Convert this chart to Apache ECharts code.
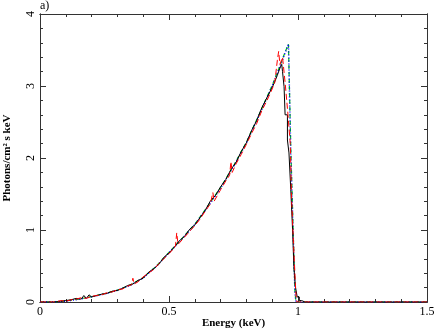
<!DOCTYPE html>
<html>
<head>
<meta charset="utf-8">
<script src="https://cdn.jsdelivr.net/npm/echarts@6/dist/echarts.min.js"></script>
<style>
  html, body { margin: 0; padding: 0; background: #fff; }
</style>
</head>
<body>
<div id="mains" style="width:435px;height:332px;"></div>
<script>
// black data set (keV, photons/cm2 s keV)
var blackE = [0, 0.06, 0.08, 0.10, 0.12, 0.14, 0.16, 0.17, 0.18, 0.19, 0.20, 0.22, 0.24, 0.26, 0.28, 0.30, 0.32, 0.34, 0.36, 0.38,
  0.40, 0.42, 0.44, 0.46, 0.48, 0.50, 0.52, 0.54, 0.56, 0.58, 0.60, 0.62, 0.64, 0.66, 0.68, 0.70, 0.72, 0.74,
  0.76, 0.78, 0.80, 0.82, 0.84, 0.86, 0.88, 0.90, 0.91, 0.92, 0.93, 0.937, 0.94, 0.946, 0.946, 0.95, 0.95, 0.959, 0.959,
  0.965, 0.965, 0.972, 0.972, 0.979, 0.979, 0.984, 0.984, 0.99, 0.99, 0.997, 0.997, 1.005, 1.005, 1.014, 1.014, 1.027, 1.5];
var blackY = [0, 0.00, 0.01, 0.02, 0.03, 0.05, 0.04, 0.09, 0.05, 0.10, 0.07, 0.09, 0.11, 0.12, 0.15, 0.16, 0.19, 0.23, 0.25, 0.30,
  0.33, 0.41, 0.46, 0.52, 0.62, 0.68, 0.76, 0.85, 0.91, 1.01, 1.07, 1.17, 1.27, 1.40, 1.48, 1.60, 1.70, 1.84,
  1.94, 2.09, 2.21, 2.38, 2.52, 2.70, 2.84, 2.98, 3.06, 3.15, 3.25, 3.30, 3.20, 3.20, 2.99, 2.99, 2.60, 2.60, 2.25,
  2.25, 2.07, 2.07, 1.56, 1.56, 1.00, 1.00, 0.49, 0.49, 0.21, 0.21, 0.07, 0.07, 0.02, 0.02, 0.00, 0.00, 0];

// red data set
var redE = [0, 0.06, 0.08, 0.10, 0.12, 0.14, 0.16, 0.18, 0.20, 0.22, 0.24, 0.26, 0.28, 0.30, 0.32, 0.34, 0.355, 0.36, 0.365,
  0.38, 0.40, 0.42, 0.44, 0.46, 0.48, 0.50, 0.52, 0.525, 0.53, 0.535, 0.54, 0.56, 0.58, 0.60, 0.62, 0.64, 0.66, 0.665, 0.67, 0.675,
  0.70, 0.72, 0.735, 0.74, 0.745, 0.76, 0.78, 0.80, 0.82, 0.84, 0.86, 0.88, 0.90, 0.91, 0.92, 0.925, 0.93, 0.94, 0.95,
  0.96, 0.97, 0.975, 0.982, 0.988, 0.992, 0.996, 1.5];
var redY = [0, 0.00, 0.02, 0.01, 0.03, 0.04, 0.06, 0.05, 0.08, 0.09, 0.10, 0.13, 0.14, 0.17, 0.18, 0.22, 0.24, 0.33, 0.25,
  0.28, 0.35, 0.40, 0.45, 0.53, 0.60, 0.67, 0.75, 0.78, 0.96, 0.80, 0.82, 0.90, 0.98, 1.06, 1.15, 1.26, 1.36, 1.38, 1.52, 1.40,
  1.56, 1.68, 1.76, 1.95, 1.80, 1.92, 2.05, 2.19, 2.34, 2.48, 2.66, 2.80, 2.96, 3.05, 3.36, 3.48, 3.30, 3.40, 3.05,
  2.65, 2.20, 1.46, 0.86, 0.40, 0.10, 0.00, 0];

// model curves
var modelE = [0, 0.05, 0.10, 0.15, 0.20, 0.25, 0.30, 0.35, 0.40, 0.45, 0.50, 0.55, 0.60, 0.65, 0.70, 0.75, 0.80,
  0.85, 0.90, 0.93, 0.95, 0.963, 0.972, 0.982, 0.988, 0.992, 1.5];
var greenY = [0, 0, 0.015, 0.04, 0.075, 0.115, 0.165, 0.235, 0.34, 0.495, 0.69, 0.88, 1.08, 1.33, 1.59, 1.89, 2.22,
  2.61, 3.01, 3.28, 3.47, 3.58, 2.15, 0.90, 0.16, 0, 0];
var blueY = [0, 0, 0.012, 0.038, 0.072, 0.112, 0.162, 0.232, 0.335, 0.49, 0.685, 0.875, 1.075, 1.32, 1.58, 1.88, 2.21,
  2.60, 3.00, 3.27, 3.46, 3.58, 2.07, 0.86, 0.14, 0, 0];

function pairs(xs, ys) {
  return xs.map(function (x, i) { return [x, ys[i]]; });
}

var font = "'Liberation Serif', 'DejaVu Serif', serif";
var frame = "#333";

// one axis of the box; major = long ticks + line, minor = short ticks only
function axis(kind, pos, major, labels) {
  var a = {
    type: "value",
    min: 0, max: kind == "x" ? 1.5 : 4,
    interval: major ? (kind == "x" ? 0.5 : 1) : (kind == "x" ? 0.1 : 0.2),
    position: pos,
    axisLine: { show: true, onZero: false, lineStyle: { color: frame, width: 1 } },
    axisTick: { show: true, inside: true, length: major ? 6 : 3, lineStyle: { color: frame } },
    splitLine: { show: false },
    axisLabel: { show: false }
  };
  if (labels) {
    a.axisLabel = {
      show: true, fontFamily: font, fontSize: 12, color: "#000",
      margin: kind == "x" ? 4 : 3, rotate: kind == "x" ? 0 : 90
    };
  }
  return a;
}

var xs = [axis("x", "bottom", true, true), axis("x", "top", true, false),
  axis("x", "bottom", false, false), axis("x", "top", false, false)];
xs[0].name = "Energy (keV)";
xs[0].nameLocation = "middle";
xs[0].nameGap = 16;
xs[0].nameMoveOverlap = false;
xs[0].nameTextStyle = { fontFamily: font, fontSize: 11, fontWeight: "bold", color: "#000" };

var ys = [axis("y", "left", true, true), axis("y", "right", true, false),
  axis("y", "left", false, false), axis("y", "right", false, false)];
ys[0].name = "Photons/cm\u00b2 s keV";
ys[0].nameLocation = "middle";
ys[0].nameGap = 27;
ys[0].nameMoveOverlap = false;
ys[0].nameTextStyle = { fontFamily: font, fontSize: 11, fontWeight: "bold", color: "#000" };

var myChart = echarts.init(document.getElementById("mains"), null, { renderer: "canvas" });
myChart.setOption({
  animation: false,
  grid: { left: 40, right: 8, top: 14, bottom: 30, containLabel: false, outerBoundsMode: "none" },
  graphic: [{
    type: "text", left: 40, top: 0,
    style: { text: "a)", font: "12px " + font, fill: "#000" }
  }],
  xAxis: xs,
  yAxis: ys,
  series: [
    {
      type: "line", data: pairs(modelE, greenY), showSymbol: false, z: 3,
      lineStyle: { color: "#00cc00", width: 1.2, type: [4, 3] }
    },
    {
      type: "line", data: pairs(modelE, blueY), showSymbol: false, z: 4,
      lineStyle: { color: "#0000ff", width: 1.5, type: [1, 2] }
    },
    {
      type: "line", data: pairs(blackE, blackY), showSymbol: false, z: 5,
      lineStyle: { color: "#000", width: 1 }
    },
    {
      type: "line", data: pairs(redE, redY), showSymbol: false, z: 6,
      lineStyle: { color: "#ff0000", width: 1, type: [6, 3] }
    }
  ]
});
</script>
</body>
</html>
